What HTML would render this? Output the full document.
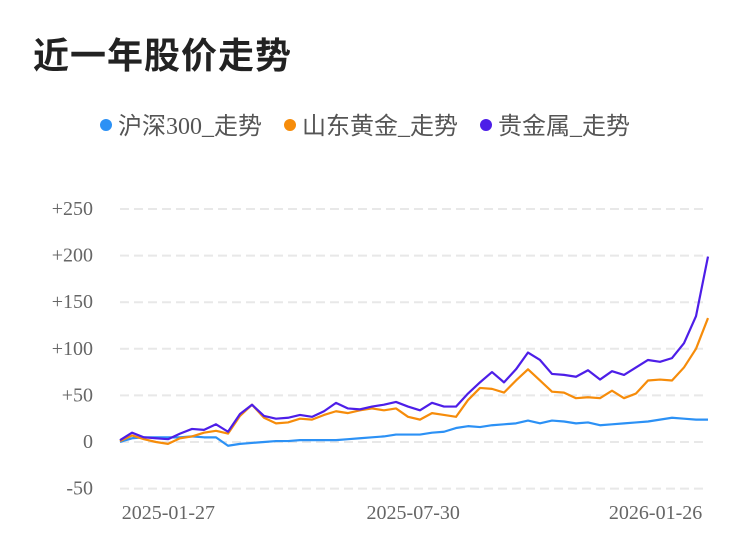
<!DOCTYPE html>
<html><head><meta charset="utf-8">
<style>
body{margin:0;background:#fff;width:750px;height:558px;overflow:hidden;font-family:"Liberation Sans","Noto Sans CJK SC",sans-serif}
#title{position:absolute;left:33px;top:27px;font-size:36px;font-weight:bold;color:#222;letter-spacing:1px}
.leg{position:absolute;top:106px;font-size:24px;color:#555;font-family:"Liberation Serif","Noto Sans CJK SC",sans-serif;white-space:nowrap}
.dot{display:inline-block;width:12px;height:12px;border-radius:50%;margin-right:6px;vertical-align:3px}
</style></head><body>
<div id="title">近一年股价走势</div>
<div class="leg" style="left:100px"><span class="dot" style="background:#2c91f5"></span>沪深300_走势</div>
<div class="leg" style="left:284px"><span class="dot" style="background:#f68c0a"></span>山东黄金_走势</div>
<div class="leg" style="left:480px"><span class="dot" style="background:#4d1ee8"></span>贵金属_走势</div>
<svg id="chart" width="750" height="558" style="position:absolute;left:0;top:0"></svg>
<script>
const yTicks=[-50,0,50,100,150,200,250];
const yTickLabels=["-50","0","+50","+100","+150","+200","+250"];
const xLabels=["2025-01-27","2025-07-30","2026-01-26"];
const xLabelIdx=[4.2,24.6,44.8];
const hs300=[0,4,5,5,5,5,6,5,5,-4,-2,-1,0,1,1,2,2,2,2,3,4,5,6,8,8,8,10,11,15,17,16,18,19,20,23,20,23,22,20,21,18,19,20,21,22,24,26,25,24,24];
const sdhj=[1,7,3,0,-2,4,6,10,12,9,28,40,26,20,21,25,24,29,33,31,34,36,34,36,27,24,31,29,27,45,58,57,53,66,78,66,54,53,47,48,47,55,47,52,66,67,66,80,100,133];
const gjs=[2,10,5,4,3,9,14,13,19,11,30,40,28,25,26,29,27,33,42,36,35,38,40,43,38,34,42,38,38,52,64,75,64,78,96,88,73,72,70,77,67,76,72,80,88,86,90,106,135,199];
const NS='http://www.w3.org/2000/svg';
const svg=document.getElementById('chart');
const x0=120,x1=708;
function xs(i){return x0+(x1-x0)*i/(hs300.length-1);}
function ys(v){return 442-v*0.932;}
function mk(t,a){const e=document.createElementNS(NS,t);for(const k in a)e.setAttribute(k,a[k]);svg.appendChild(e);return e;}
yTicks.forEach((t,i)=>{
  const g=mk('line',{x1:x0,x2:x1,y1:ys(t),y2:ys(t),stroke:'#e8e8e8','stroke-width':2,'stroke-dasharray':'9,5'});
  
  
  const l=mk('text',{x:93,y:ys(t)+6,'text-anchor':'end','font-size':20,fill:'#666','font-family':'Liberation Serif,serif'});
  l.textContent=yTickLabels[i];
  
  
});
xLabels.forEach((s,i)=>{
  const l=mk('text',{x:xs(xLabelIdx[i])-2,y:519,'text-anchor':'middle','font-size':20,fill:'#666','font-family':'Liberation Serif,serif'});
  l.textContent=s;
  
  
});
[[hs300,'#2c91f5','series-hs300'],[sdhj,'#f68c0a','series-sdhj'],[gjs,'#4d1ee8','series-gjs']].forEach(([d,c,n])=>{
  const p=mk('polyline',{points:d.map((v,i)=>xs(i)+','+ys(v)).join(' '),fill:'none',stroke:c,'stroke-width':2.2,'stroke-linejoin':'round'});
  
  
});
</script>
</body></html>
